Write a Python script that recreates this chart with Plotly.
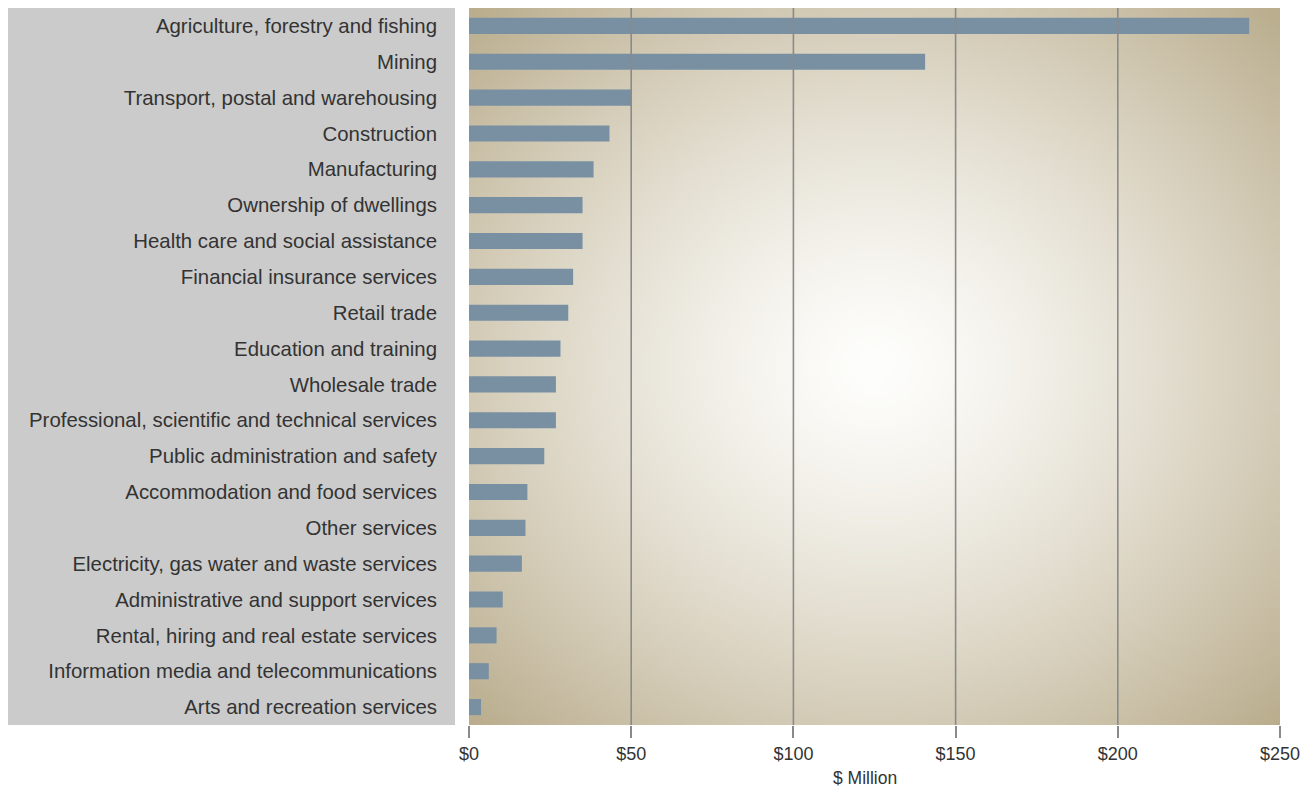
import base64
import struct
import zlib

import numpy as np
import plotly.graph_objects as go

# ---------------- data ----------------
industries = [
    "Agriculture, forestry and fishing",
    "Mining",
    "Transport, postal and warehousing",
    "Construction",
    "Manufacturing",
    "Ownership of dwellings",
    "Health care and social assistance",
    "Financial insurance services",
    "Retail trade",
    "Education and training",
    "Wholesale trade",
    "Professional, scientific and technical services",
    "Public administration and safety",
    "Accommodation and food services",
    "Other services",
    "Electricity, gas water and waste services",
    "Administrative and support services",
    "Rental, hiring and real estate services",
    "Information media and telecommunications",
    "Arts and recreation services",
]
values_musd = [
    240.5, 140.6, 50.0, 43.3, 38.4, 35.0, 35.0, 32.1, 30.6, 28.2,
    26.8, 26.8, 23.2, 18.0, 17.4, 16.3, 10.4, 8.5, 6.1, 3.7,
]
tick_values = [0, 50, 100, 150, 200, 250]
tick_labels = ["$0", "$50", "$100", "$150", "$200", "$250"]
x_title = "$ Million"

# ---------------- radial background image ----------------
def radial_png(w, h):
    xs = (np.arange(w) + 0.5) / w * 2 - 1
    ys = (np.arange(h) + 0.5) / h * 2 - 1
    X, Y = np.meshgrid(xs, ys)
    d = np.sqrt(X ** 2 + Y ** 2) / np.sqrt(2)
    t = np.clip(d, 0, 1) ** 1.35
    c0 = np.array([254, 254, 252], dtype=float)
    c1 = np.array([186, 173, 141], dtype=float)
    img = (c0[None, None, :] * (1 - t[..., None]) + c1[None, None, :] * t[..., None])
    img = np.clip(img, 0, 255).astype(np.uint8)
    raw = b"".join(b"\x00" + img[r].tobytes() for r in range(h))

    def chunk(tag, data):
        return (struct.pack(">I", len(data)) + tag + data
                + struct.pack(">I", zlib.crc32(tag + data) & 0xFFFFFFFF))

    png = (b"\x89PNG\r\n\x1a\n"
           + chunk(b"IHDR", struct.pack(">IIBBBBB", w, h, 8, 2, 0, 0, 0))
           + chunk(b"IDAT", zlib.compress(raw, 9))
           + chunk(b"IEND", b""))
    return "data:image/png;base64," + base64.b64encode(png).decode()


bg_uri = radial_png(203, 180)

# ---------------- figure ----------------
fig = go.Figure()
fig.add_trace(go.Bar(
    x=values_musd,
    y=industries,
    orientation="h",
    marker=dict(color="#7990a3", line=dict(width=0)),
    hoverinfo="x+y",
))

# figure is placed at (8, 8) on the page by the default body margin
W, H = 1300, 781
left, right, top, bottom = 461, 28, 0, 64
plot_w = W - left - right
plot_h = H - top - bottom

shapes = [
    # grey label panel on the left
    dict(type="rect", xref="paper", yref="paper",
         x0=-left / plot_w, x1=(447 - left) / plot_w, y0=0, y1=1,
         fillcolor="#cbcbcb", line=dict(width=0), layer="below"),
]
# vertical gridlines drawn on top of bars
for tv in tick_values[1:-1]:
    shapes.append(dict(type="line", xref="x", yref="paper", x0=tv, x1=tv, y0=0, y1=1,
                       line=dict(color="#8a8a8a", width=1.6), layer="above"))

fig.update_layout(
    width=W, height=H,
    margin=dict(l=left, r=right, t=top, b=bottom, pad=0),
    paper_bgcolor="white",
    plot_bgcolor="rgba(0,0,0,0)",
    font=dict(family="Liberation Sans, Arial, sans-serif", color="#333333"),
    showlegend=False,
    bargap=0.55,
    shapes=shapes,
    images=[dict(source=bg_uri, xref="paper", yref="paper", x=0, y=1,
                 sizex=1, sizey=1, sizing="stretch", xanchor="left",
                 yanchor="top", layer="below")],
    annotations=[dict(text=x_title, xref="paper", yref="paper",
                      x=(857 - left) / plot_w, y=-(770 - plot_h) / plot_h,
                      xanchor="center", yanchor="middle", showarrow=False,
                      font=dict(size=17.5, color="#333333"))],
    xaxis=dict(
        range=[0, 250],
        tickvals=tick_values, ticktext=tick_labels,
        ticks="outside", ticklen=12, tickwidth=1.5, tickcolor="#8a8a8a",
        showgrid=False, zeroline=False, showline=False,
        tickfont=dict(size=18, color="#333333"),
        fixedrange=True,
    ),
    yaxis=dict(
        autorange="reversed",
        categoryorder="array", categoryarray=industries,
        showgrid=False, zeroline=False, showline=False,
        ticks="", ticklabelstandoff=31,
        tickfont=dict(size=20.4, color="#333333"),
        fixedrange=True,
    ),
)

fig.write_html("out.html")
